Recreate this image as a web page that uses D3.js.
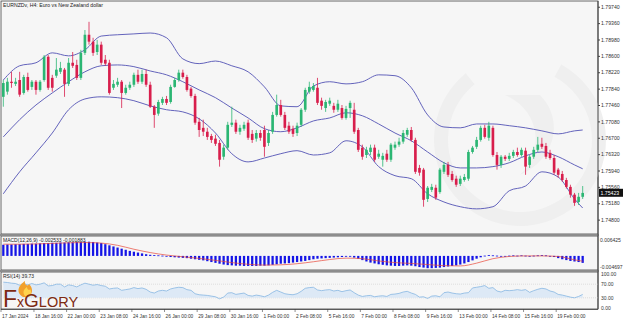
<!doctype html>
<html lang="en">
<head>
<meta charset="utf-8">
<title>EURNZD H4</title>
<script src="https://cdn.jsdelivr.net/npm/d3@7"></script>
<style>
  body { margin: 0; background: #fff; }
  svg text { font-family: "Liberation Sans", "DejaVu Sans", sans-serif; }
</style>
</head>
<body>
<script>
// candles: [open, high, low, close]
var candles = [
[1.7765,1.7804,1.7742,1.7797],[1.7777,1.7809,1.7770,1.7800],[1.7800,1.7823,1.7786,1.7797],[1.7795,1.7809,1.7790,1.7800],
[1.7804,1.7823,1.7765,1.7770],[1.7774,1.7816,1.7770,1.7811],[1.7811,1.7821,1.7777,1.7781],[1.7788,1.7804,1.7781,1.7800],
[1.7800,1.7804,1.7770,1.7781],[1.7781,1.7804,1.7777,1.7800],[1.7804,1.7862,1.7800,1.7858],[1.7858,1.7862,1.7781,1.7786],
[1.7809,1.7816,1.7777,1.7786],[1.7814,1.7855,1.7809,1.7828],[1.7823,1.7846,1.7818,1.7832],[1.7828,1.7832,1.7765,1.7795],
[1.7795,1.7855,1.7790,1.7844],[1.7844,1.7869,1.7832,1.7837],[1.7839,1.7851,1.7804,1.7809],[1.7809,1.7874,1.7804,1.7867],
[1.7867,1.7920,1.7862,1.7909],[1.7909,1.7939,1.7886,1.7893],[1.7893,1.7902,1.7860,1.7867],[1.7869,1.7897,1.7862,1.7886],
[1.7886,1.7893,1.7839,1.7844],[1.7851,1.7862,1.7837,1.7842],[1.7844,1.7851,1.7770,1.7774],[1.7786,1.7804,1.7781,1.7795],
[1.7793,1.7809,1.7788,1.7800],[1.7800,1.7804,1.7739,1.7774],[1.7774,1.7793,1.7770,1.7786],[1.7786,1.7800,1.7781,1.7793],
[1.7793,1.7821,1.7788,1.7816],[1.7816,1.7828,1.7795,1.7800],[1.7800,1.7828,1.7795,1.7818],[1.7818,1.7828,1.7788,1.7793],
[1.7793,1.7800,1.7739,1.7742],[1.7742,1.7746,1.7693,1.7723],[1.7726,1.7758,1.7721,1.7753],[1.7751,1.7765,1.7746,1.7760],
[1.7760,1.7767,1.7746,1.7751],[1.7753,1.7793,1.7749,1.7788],[1.7788,1.7809,1.7786,1.7804],[1.7804,1.7828,1.7800,1.7821],
[1.7821,1.7828,1.7807,1.7811],[1.7811,1.7816,1.7777,1.7781],[1.7784,1.7788,1.7763,1.7767],[1.7767,1.7772,1.7700,1.7705],
[1.7707,1.7716,1.7672,1.7688],[1.7693,1.7712,1.7674,1.7684],[1.7684,1.7693,1.7665,1.7672],[1.7674,1.7679,1.7658,1.7665],
[1.7668,1.7677,1.7651,1.7656],[1.7658,1.7665,1.7603,1.7619],[1.7626,1.7654,1.7619,1.7647],[1.7647,1.7707,1.7642,1.7700],
[1.7700,1.7742,1.7695,1.7705],[1.7705,1.7712,1.7679,1.7684],[1.7684,1.7700,1.7677,1.7693],[1.7691,1.7707,1.7686,1.7700],
[1.7705,1.7712,1.7665,1.7670],[1.7679,1.7688,1.7658,1.7665],[1.7668,1.7688,1.7661,1.7681],[1.7681,1.7688,1.7663,1.7670],
[1.7688,1.7698,1.7626,1.7649],[1.7658,1.7688,1.7651,1.7681],[1.7684,1.7730,1.7679,1.7723],[1.7723,1.7770,1.7719,1.7746],
[1.7746,1.7758,1.7719,1.7723],[1.7723,1.7730,1.7688,1.7693],[1.7698,1.7707,1.7679,1.7684],[1.7691,1.7698,1.7672,1.7679],
[1.7681,1.7705,1.7674,1.7698],[1.7700,1.7739,1.7695,1.7735],[1.7735,1.7786,1.7730,1.7781],[1.7777,1.7800,1.7772,1.7788],
[1.7781,1.7797,1.7777,1.7790],[1.7786,1.7809,1.7746,1.7751],[1.7756,1.7763,1.7735,1.7744],[1.7739,1.7758,1.7730,1.7753],
[1.7749,1.7763,1.7744,1.7756],[1.7744,1.7751,1.7728,1.7735],[1.7735,1.7758,1.7730,1.7749],[1.7739,1.7746,1.7712,1.7716],
[1.7716,1.7744,1.7712,1.7737],[1.7739,1.7756,1.7716,1.7751],[1.7735,1.7751,1.7679,1.7684],[1.7688,1.7693,1.7637,1.7642],
[1.7647,1.7654,1.7619,1.7626],[1.7630,1.7649,1.7623,1.7642],[1.7637,1.7654,1.7630,1.7647],[1.7647,1.7654,1.7614,1.7619],
[1.7626,1.7642,1.7621,1.7633],[1.7619,1.7635,1.7603,1.7628],[1.7633,1.7642,1.7614,1.7619],[1.7619,1.7658,1.7614,1.7654],
[1.7647,1.7661,1.7642,1.7654],[1.7654,1.7670,1.7649,1.7661],[1.7661,1.7688,1.7656,1.7681],[1.7677,1.7693,1.7672,1.7688],
[1.7688,1.7695,1.7661,1.7665],[1.7665,1.7670,1.7586,1.7591],[1.7600,1.7607,1.7582,1.7589],[1.7596,1.7600,1.7510,1.7526],
[1.7528,1.7558,1.7521,1.7554],[1.7549,1.7563,1.7544,1.7556],[1.7554,1.7561,1.7526,1.7531],[1.7544,1.7600,1.7540,1.7596],
[1.7591,1.7614,1.7586,1.7607],[1.7607,1.7614,1.7579,1.7584],[1.7586,1.7593,1.7568,1.7572],[1.7575,1.7582,1.7556,1.7561],
[1.7563,1.7582,1.7558,1.7575],[1.7572,1.7586,1.7568,1.7579],[1.7575,1.7642,1.7570,1.7637],[1.7637,1.7651,1.7633,1.7647],
[1.7649,1.7672,1.7644,1.7665],[1.7665,1.7698,1.7661,1.7693],[1.7693,1.7700,1.7668,1.7672],[1.7670,1.7707,1.7663,1.7698],
[1.7693,1.7698,1.7626,1.7630],[1.7630,1.7637,1.7596,1.7607],[1.7607,1.7630,1.7600,1.7626],[1.7626,1.7630,1.7616,1.7621],
[1.7621,1.7635,1.7616,1.7628],[1.7628,1.7642,1.7623,1.7637],[1.7637,1.7647,1.7626,1.7630],[1.7630,1.7647,1.7626,1.7642],
[1.7640,1.7647,1.7584,1.7603],[1.7607,1.7630,1.7600,1.7626],[1.7626,1.7649,1.7621,1.7642],[1.7642,1.7672,1.7637,1.7654],
[1.7656,1.7670,1.7644,1.7649],[1.7651,1.7658,1.7621,1.7626],[1.7635,1.7642,1.7619,1.7623],[1.7623,1.7630,1.7584,1.7589],
[1.7596,1.7600,1.7577,1.7584],[1.7586,1.7593,1.7568,1.7572],[1.7572,1.7577,1.7552,1.7556],[1.7556,1.7561,1.7531,1.7538],
[1.7538,1.7542,1.7512,1.7519],[1.7521,1.7542,1.7514,1.7533],[1.7533,1.7558,1.7528,1.7542]
];

// Bollinger bands read at these bars
var bandBars = [0,4,8,12,16,20,24,28,32,36,40,44,48,52,56,60,64,68,72,76,80,84,88,92,96,100,104,108,112,116,120,124,128,132,136,140,142];
var bbUpper = [1.7804,1.7837,1.7844,1.7867,1.7860,1.7874,1.7906,1.7909,1.7911,1.7913,1.7902,1.7853,1.7842,1.7848,1.7837,1.7823,1.7788,1.7744,1.7742,1.7790,
               1.7800,1.7795,1.7800,1.7816,1.7814,1.7786,1.7723,1.7695,1.7693,1.7702,1.7702,1.7698,1.7693,1.7686,1.7679,1.7686,1.7688];
var bbMiddle = [1.7672,1.7712,1.7746,1.7774,1.7800,1.7823,1.7837,1.7839,1.7835,1.7825,1.7816,1.7800,1.7781,1.7763,1.7739,1.7716,1.7691,1.7684,1.7693,1.7709,
                1.7716,1.7728,1.7721,1.7702,1.7681,1.7663,1.7637,1.7612,1.7600,1.7600,1.7603,1.7612,1.7628,1.7637,1.7626,1.7607,1.7598];
var bbLower = [1.7540,1.7591,1.7635,1.7681,1.7735,1.7760,1.7765,1.7763,1.7756,1.7744,1.7735,1.7730,1.7714,1.7681,1.7633,1.7614,1.7623,1.7633,1.7640,1.7630,
               1.7635,1.7663,1.7649,1.7603,1.7582,1.7575,1.7540,1.7521,1.7510,1.7505,1.7510,1.7547,1.7558,1.7591,1.7579,1.7528,1.7507];

// MACD histogram, one per candle
var macd = [
 0.0040,0.0041,0.0041,0.0042,0.0042, 0.0043,0.0043,0.0044,0.0044,0.0045,
 0.0046,0.0046,0.0047,0.0047,0.0048, 0.0048,0.0049,0.0049,0.0050,0.0050,
 0.0051,0.0051,0.0050,0.0048,0.0046, 0.0042,0.0038,0.0034,0.0030,0.0026,
 0.0022,0.0018,0.0015,0.0012,0.0009, 0.0006,0.0004,0.0003,0.0002,0.0001,
 -0.0002,-0.0004,-0.0005,-0.0006,-0.0007, -0.0008,-0.0010,-0.0012,-0.0014,-0.0016,
 -0.0019,-0.0022,-0.0025,-0.0028,-0.0031, -0.0033,-0.0034,-0.0035,-0.0035,-0.0036,
 -0.0036,-0.0036,-0.0036,-0.0035,-0.0035, -0.0034,-0.0032,-0.0030,-0.0028,-0.0027,
 -0.0026,-0.0024,-0.0022,-0.0020,-0.0018, -0.0015,-0.0012,-0.0010,-0.0009,-0.0008,
 -0.0007,-0.0006,-0.0005,-0.0004,-0.0003, -0.0003,-0.0006,-0.0010,-0.0015,-0.0020,
 -0.0024,-0.0027,-0.0030,-0.0032,-0.0034, -0.0035,-0.0036,-0.0036,-0.0035,-0.0034,
 -0.0035,-0.0037,-0.0040,-0.0042,-0.0044, -0.0044,-0.0043,-0.0042,-0.0040,-0.0038,
 -0.0036,-0.0034,-0.0031,-0.0027,-0.0022, -0.0016,-0.0010,-0.0005,0.0001,0.0003,
 0.0002,0.0001,0.0000,-0.0001,0.0001, 0.0002,0.0001,0.0002,0.0001,-0.0001,
 0.0001,0.0002,0.0003,0.0002,0.0000, -0.0004,-0.0008,-0.0012,-0.0015,-0.0018,
 -0.0020,-0.0022,-0.0025
];
var macdSignal = [0.0042,0.0042,0.0043,0.0045,0.0047,0.0048,0.0046,0.0038,0.0024,0.0012,0.0003,-0.0003,-0.0009,-0.0016,-0.0024,-0.0030,-0.0033,-0.0032,-0.0028,-0.0021,
                  -0.0013,-0.0008,-0.0010,-0.0018,-0.0024,-0.0027,-0.0031,-0.0035,-0.0036,-0.0026,-0.0010,-0.0002,0.0000,0.0000,-0.0002,-0.0014,-0.0019];

// RSI(14), one per candle
var rsi = [
 76,75,73,72,67,72,68,72,68,70, 74,65,66,70,70,62,68,66,62,68,
 73,70,67,69,66,64,56,58,59,52, 54,56,60,57,59,55,47,44,50,52,
 50,56,59,61,60,54,52,42,39,38, 37,35,33,27,32,44,45,40,42,44,
 37,35,38,36,33,38,46,52,47,42, 40,39,42,49,58,60,61,53,51,53,
 54,50,52,48,51,53,45,38,34,36, 37,33,35,36,34,40,41,43,47,49,
 44,40,32,33,28,35,36,33,45,47, 44,42,41,44,45,59,61,63,66,58,
 60,50,47,52,51,52,54,52,54,46, 51,55,58,56,50,47,40,38,35,32,
 30,34,40
];

var priceTicks = [1.79740,1.79360,1.78980,1.78600,1.78220,1.77840,1.77460,1.77080,1.76700,1.76320,1.75940,1.75560,1.75180,1.74800];
var lastPrice = 1.75423;
var timeBars = [0,8,16,24,32,40,48,56,64,72,80,88,96,104,112,120,128,136];
var timeLabels = ["17 Jan 2024","18 Jan 16:00","22 Jan 00:00","23 Jan 08:00","24 Jan 16:00","26 Jan 00:00","29 Jan 08:00","30 Jan 16:00","1 Feb 00:00",
                  "2 Feb 08:00","5 Feb 16:00","7 Feb 00:00","8 Feb 08:00","9 Feb 16:00","13 Feb 00:00","14 Feb 08:00","15 Feb 16:00","19 Feb 00:00"];

var W = 625, H = 320, plotR = 598;
var main = {top: 1, bottom: 234}, pMacd = {top: 236, bottom: 270}, pRsi = {top: 272, bottom: 309};

var svg = d3.select("body").append("svg").attr("width", W).attr("height", H);

var x = d3.scaleBand().domain(d3.range(candles.length)).range([2, 584]).paddingInner(0.35);
var cx = i => x(i) + x.bandwidth() / 2;
var y = d3.scaleLinear().domain([1.7449, 1.7985]).range([233, 2]);
var yM = d3.scaleLinear().domain([-0.004697, 0.006425]).range([269, 238]);
var yR = d3.scaleLinear().domain([0, 100]).range([308, 274]);

// panels
[main, pMacd, pRsi].forEach(function(p) {
  svg.append("rect").attr("x", 1).attr("y", p.top).attr("width", plotR - 1).attr("height", p.bottom - p.top)
     .attr("fill", "#f6f6f6").attr("stroke", "#444").attr("stroke-width", 0.8);
});
svg.selectAll("line.sep").data([235, 271]).enter().append("line")
   .attr("x1", 0).attr("x2", plotR + 1).attr("y1", d => d).attr("y2", d => d)
   .attr("stroke", "#8c8c8c").attr("stroke-width", 2);

// faint watermark
var arc = d3.arc().innerRadius(72).outerRadius(86).startAngle(0.5).endAngle(5.6);
svg.append("path").attr("d", arc()).attr("transform", "translate(520,140)").attr("fill", "#efefef");
svg.append("path").attr("d", "M505,95 C540,110 545,150 520,175 C555,160 565,120 540,95 Z").attr("fill", "#efefef");

svg.append("clipPath").attr("id", "clipMain").append("rect").attr("x", 1).attr("y", main.top).attr("width", plotR - 1).attr("height", main.bottom - main.top);
var g = svg.append("g").attr("clip-path", "url(#clipMain)");

// Bollinger bands
[bbUpper, bbMiddle, bbLower].forEach(function(arr) {
  var line = d3.line().x((d, k) => cx(bandBars[k])).y(d => y(d)).curve(d3.curveMonotoneX);
  g.append("path").datum(arr).attr("d", line).attr("fill", "none").attr("stroke", "#5252b4").attr("stroke-width", 0.9);
});

// candles
var up = "#2bb673", dn = "#d81e4c";
var c = g.selectAll("g.c").data(candles).enter().append("g");
c.append("line").attr("x1", (d, i) => cx(i)).attr("x2", (d, i) => cx(i))
  .attr("y1", d => y(d[1])).attr("y2", d => y(d[2]))
  .attr("stroke", d => d[3] >= d[0] ? up : dn).attr("stroke-width", 0.8);
c.append("rect").attr("x", (d, i) => x(i)).attr("width", x.bandwidth())
  .attr("y", d => y(Math.max(d[0], d[3])))
  .attr("height", d => Math.max(1, Math.abs(y(d[0]) - y(d[3]))))
  .attr("fill", d => d[3] >= d[0] ? up : dn);

// title
svg.append("text").attr("x", 3).attr("y", 7).attr("font-size", 5.2).attr("fill", "#222")
   .text("EURNZDv, H4:  Euro vs New Zealand dollar");

// price axis
var ax = svg.append("g").attr("transform", "translate(" + plotR + ",0)")
  .call(d3.axisRight(y).tickValues(priceTicks).tickSize(2).tickPadding(1).tickFormat(d3.format(".5f")));
ax.select(".domain").attr("d", "M0,1V309").attr("stroke", "#444");
ax.selectAll("text").attr("font-size", 5.2).attr("fill", "#333").attr("font-family", "Liberation Sans, sans-serif");
ax.selectAll(".tick line").attr("stroke", "#444");

svg.append("rect").attr("x", plotR + 1).attr("y", y(lastPrice) - 4).attr("width", 24).attr("height", 8).attr("fill", "#111");
svg.append("text").attr("x", plotR + 2.5).attr("y", y(lastPrice) + 2).attr("font-size", 5.2).attr("fill", "#fff").text(lastPrice.toFixed(5));

// MACD
svg.append("g").selectAll("rect").data(macd).enter().append("rect")
   .attr("x", (d, i) => x(i) + 0.2).attr("width", x.bandwidth() - 0.4)
   .attr("y", d => Math.min(yM(0), yM(d)))
   .attr("height", d => Math.max(0.8, Math.abs(yM(d) - yM(0))))
   .attr("fill", "#1414e6");
svg.append("path").datum(macdSignal)
   .attr("d", d3.line().x((d, k) => cx(bandBars[k])).y(d => yM(d)).curve(d3.curveMonotoneX))
   .attr("fill", "none").attr("stroke", "#e8483a").attr("stroke-width", 0.7);
svg.append("text").attr("x", 3).attr("y", 242).attr("font-size", 5).attr("fill", "#222")
   .text("MACD(12,26,9) -0.002533 -0.001883");
var mTicks = [0.006425, -0.004697];
svg.selectAll("text.mt").data(mTicks).enter().append("text")
   .attr("x", plotR + 2).attr("y", (d, i) => i ? 269 : 242).attr("font-size", 5).attr("fill", "#333")
   .text(d => d.toFixed(6));

// RSI
svg.selectAll("line.lvl").data([70, 30]).enter().append("line")
   .attr("x1", 1).attr("x2", plotR).attr("y1", d => yR(d)).attr("y2", d => yR(d))
   .attr("stroke", "#c4c4c4").attr("stroke-width", 0.5).attr("stroke-dasharray", "1,1");
svg.append("path").datum(rsi)
   .attr("d", d3.area().x((d, i) => cx(i)).y0(yR(30)).y1(d => yR(Math.max(d, 30))))
   .attr("fill", "#dde9f6");
svg.append("path").datum(rsi)
   .attr("d", d3.line().x((d, i) => cx(i)).y(d => yR(d)))
   .attr("fill", "none").attr("stroke", "#86b6e2").attr("stroke-width", 0.8);
svg.append("text").attr("x", 3).attr("y", 278).attr("font-size", 5).attr("fill", "#222").text("RSI(14) 39.73");
var rTicks = [100, 70, 30, 0];
svg.selectAll("text.rt").data(rTicks).enter().append("text")
   .attr("x", plotR + 3).attr("y", d => Math.min(yR(d) + 2, 310)).attr("font-size", 5).attr("fill", "#333")
   .text(d => d.toFixed(2));

// logo
var logo = svg.append("g");
logo.append("path").attr("d", "M23,297 C15,292 19,285 25,281 C24,285 28,287 29,284 C32,287 34,292 29,297 Z").attr("fill", "#f2a02c");
logo.append("path").attr("d", "M25,296 C22,292 24,289 27,287 C27,290 30,291 30,289 C32,292 31,295 28,297 Z").attr("fill", "#ffd34d");
var lt = logo.append("text").attr("x", 3).attr("y", 306.5).attr("fill", "#7d2a12")
   .attr("font-family", "Liberation Serif, serif");
lt.append("tspan").attr("font-size", 23).text("F");
lt.append("tspan").attr("font-size", 14).text("x");
lt.append("tspan").attr("font-size", 19).text("G");
lt.append("tspan").attr("font-size", 14.5).text("LORY");

// time axis
svg.append("line").attr("x1", 1).attr("x2", plotR).attr("y1", 309.5).attr("y2", 309.5).attr("stroke", "#444").attr("stroke-width", 0.8);
var tg = svg.selectAll("g.t").data(timeBars).enter().append("g")
   .attr("transform", d => "translate(" + (d === 0 ? 1 : cx(d) - 2) + ",309)");
tg.append("line").attr("y1", 0).attr("y2", 3).attr("stroke", "#444").attr("stroke-width", 0.6);
tg.append("text").attr("x", 1).attr("y", 8.5).attr("font-size", 4.8).attr("fill", "#333").text((d, i) => timeLabels[i]);
</script>
</body>
</html>
